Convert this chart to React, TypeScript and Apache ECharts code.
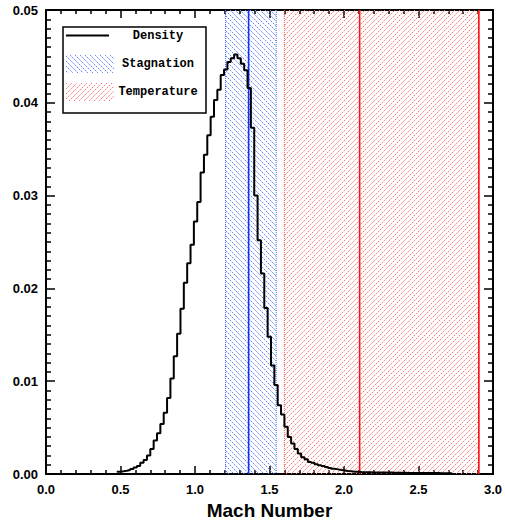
import React, { useEffect, useRef } from "react";
import * as echarts from "echarts";

// ---- data ----
const X_MIN = 0;
const X_MAX = 3;
const Y_MIN = 0;
const Y_MAX = 0.05;
const X_TICKS_INTERVAL = 0.5;
const Y_TICKS_INTERVAL = 0.01;

const BIN_START = 0.475;
const BIN_WIDTH = 0.0225;
const density = [
  0.00025, 0.0003, 0.00036, 0.00043, 0.00054, 0.0007, 0.00086, 0.0012, 0.0015, 0.002,
  0.0027, 0.0036, 0.0044, 0.0054, 0.0066, 0.0082, 0.0103, 0.0127, 0.0151, 0.0178,
  0.0206, 0.0227, 0.0247, 0.0272, 0.0293, 0.0325, 0.0344, 0.0365, 0.0385, 0.0403,
  0.0414, 0.043, 0.0436, 0.0444, 0.0448, 0.0452, 0.0448, 0.0442, 0.0435, 0.0416,
  0.0373, 0.03, 0.0252, 0.0216, 0.0179, 0.0148, 0.0117, 0.0096, 0.0074, 0.0064,
  0.0051, 0.004, 0.0033, 0.0027, 0.0022, 0.0018, 0.0016, 0.0013, 0.0012, 0.00105,
  0.00095, 0.00085, 0.00075, 0.00065, 0.00057, 0.0005, 0.00043, 0.00038, 0.00033, 0.00029,
  0.00025, 0.00023, 0.00021, 0.0002, 0.00019, 0.00018, 0.00017, 0.00017, 0.00016, 0.00016,
  0.00015, 0.00015, 0.00014, 0.00014, 0.00013, 0.00013, 0.00012, 0.00012, 0.00012, 0.00011,
  0.00011, 0.00011, 0.0001, 0.0001, 0.0001, 0.0001, 0.00009, 0.00009, 0.00009, 0.00009,
];

// bands
const stagnationBand = [1.205, 1.545];
const temperatureBand = [1.6, 2.905];
// solid markers
const stagnationLines = [1.36];
const temperatureLines = [2.105, 2.905];

const legendLabels = ["Density", "Stagnation", "Temperature"];
const xAxisTitle = "Mach Number";

// ---- styles ----
const BLUE_HATCH = "#6a86ff";
const RED_HATCH = "#ff7a7a";
const BLUE_LINE = "#1030ff";
const RED_LINE = "#ff1010";
const HATCH_STEP = 5;

function hatchSegments(
  x0: number, y0: number, x1: number, y1: number, dir: number, step: number
): number[][] {
  const segs: number[][] = [];
  if (dir === 1) {
    const cStart = Math.ceil((x0 - y1) / step) * step;
    for (let c = cStart; c <= x1 - y0; c += step) {
      const xa = Math.max(x0, y0 + c);
      const xb = Math.min(x1, y1 + c);
      if (xb > xa) segs.push([xa, xa - c, xb, xb - c]);
    }
  } else {
    const cStart = Math.ceil((x0 + y0) / step) * step;
    for (let c = cStart; c <= x1 + y1; c += step) {
      const xa = Math.max(x0, c - y1);
      const xb = Math.min(x1, c - y0);
      if (xb > xa) segs.push([xa, c - xa, xb, c - xb]);
    }
  }
  return segs;
}

function hatchElements(x0: number, y0: number, x1: number, y1: number, kind: number, z?: number) {
  const dir = kind === 0 ? 1 : -1;
  const color = kind === 0 ? BLUE_HATCH : RED_HATCH;
  return hatchSegments(x0, y0, x1, y1, dir, HATCH_STEP).map((s) => {
    const el: any = {
      type: "line",
      shape: { x1: s[0], y1: s[1], x2: s[2], y2: s[3] },
      style: { stroke: color, lineWidth: 1, lineDash: [2, 1] },
      silent: true,
    };
    if (z !== undefined) el.z = z;
    return el;
  });
}

const AXIS_COLOR = "#000";
const labelFont = {
  fontFamily: "Liberation Sans",
  fontWeight: "bold" as const,
  fontSize: 13,
  color: "#000",
};

export default function App() {
  const ref = useRef<HTMLDivElement>(null);

  useEffect(() => {
    document.body.style.margin = "0";
    if (!ref.current) return;
    const chart = echarts.init(ref.current, undefined, { renderer: "svg" });

    const histPoints: number[][] = density.map((v, i) => [BIN_START + i * BIN_WIDTH, v]);
    histPoints.push([BIN_START + density.length * BIN_WIDTH, density[density.length - 1]]);

    const bandData = [
      [stagnationBand[0], stagnationBand[1], 0],
      [temperatureBand[0], temperatureBand[1], 1],
    ];
    const lineData = [
      ...stagnationLines.map((x) => [x, 0]),
      ...temperatureLines.map((x) => [x, 1]),
    ];

    const baseX = {
      type: "value" as const,
      min: X_MIN,
      max: X_MAX,
      interval: X_TICKS_INTERVAL,
      splitLine: { show: false },
      axisLine: { show: true, onZero: false, lineStyle: { color: AXIS_COLOR, width: 2 } },
      axisTick: { show: true, inside: true, length: 8, lineStyle: { color: AXIS_COLOR, width: 1.5 } },
      minorTick: { show: true, splitNumber: 5, length: 4, lineStyle: { color: AXIS_COLOR, width: 1.5 } },
      minorSplitLine: { show: false },
    };
    const baseY = {
      type: "value" as const,
      min: Y_MIN,
      max: Y_MAX,
      interval: Y_TICKS_INTERVAL,
      splitLine: { show: false },
      axisLine: { show: true, onZero: false, lineStyle: { color: AXIS_COLOR, width: 2 } },
      axisTick: { show: true, inside: true, length: 9, lineStyle: { color: AXIS_COLOR, width: 1.5 } },
      minorTick: { show: true, splitNumber: 10, length: 5, lineStyle: { color: AXIS_COLOR, width: 1.5 } },
      minorSplitLine: { show: false },
    };

    const LX = 63, LY = 27, LW = 143, LH = 86;
    const legendFont = 'bold 12px "Liberation Mono", "DejaVu Sans Mono", monospace';
    const legendGraphics: any[] = [
      {
        type: "rect",
        shape: { x: LX, y: LY, width: LW, height: LH },
        style: { fill: "#fff", stroke: "#000", lineWidth: 1.5 },
        z: 100,
      },
      {
        type: "line",
        shape: { x1: 66, y1: 35.5, x2: 109, y2: 35.5 },
        style: { stroke: "#000", lineWidth: 2 },
        z: 101,
      },
      ...hatchElements(66, 55, 114, 73, 0, 101),
      ...hatchElements(66, 83, 114, 101, 1, 101),
      ...legendLabels.map((t, i) => ({
        type: "text",
        x: 158,
        y: [35.5, 63.5, 92][i],
        z: 102,
        style: {
          text: t,
          font: legendFont,
          fill: "#000",
          align: "center",
          verticalAlign: "middle",
          textAlign: "center",
          textVerticalAlign: "middle",
        },
      })),
    ];

    chart.setOption({
      animation: false,
      backgroundColor: "#fff",
      grid: {
        left: 46,
        right: 12,
        top: 10,
        bottom: 48,
        containLabel: false,
        outerBoundsMode: "none",
      },
      xAxis: [
        {
          ...baseX,
          position: "bottom",
          axisLabel: { ...labelFont, margin: 9, formatter: (v: number) => v.toFixed(1) },
          name: xAxisTitle,
          nameLocation: "middle",
          nameGap: 27,
          nameTextStyle: {
            fontFamily: "Liberation Sans",
            fontWeight: "bold",
            fontSize: 19,
            color: "#000",
          },
        },
        { ...baseX, position: "top", axisLabel: { show: false } },
      ],
      yAxis: [
        {
          ...baseY,
          position: "left",
          axisLabel: { ...labelFont, margin: 8, formatter: (v: number) => v.toFixed(2) },
        },
        { ...baseY, position: "right", axisLabel: { show: false } },
      ],
      graphic: legendGraphics,
      series: [
        {
          type: "custom",
          name: "bands",
          xAxisIndex: 0,
          yAxisIndex: 0,
          data: bandData,
          encode: { x: [0, 1] },
          z: 1,
          silent: true,
          renderItem: (params: any, api: any) => {
            const lo = api.value(0);
            const hi = api.value(1);
            const kind = api.value(2);
            const p0 = api.coord([lo, Y_MAX]);
            const p1 = api.coord([hi, Y_MIN]);
            const x0 = p0[0], y0 = p0[1], x1 = p1[0], y1 = p1[1];
            const edgeColor = kind === 0 ? "#4f6fff" : "#ff5a5a";
            const edges = [x0, x1].map((x) => ({
              type: "line",
              shape: { x1: x, y1: y0, x2: x, y2: y1 },
              style: { stroke: edgeColor, lineWidth: 1, lineDash: [1, 1] },
            }));
            return {
              type: "group",
              children: [...hatchElements(x0, y0, x1, y1, kind), ...edges],
            };
          },
        },
        {
          type: "custom",
          name: "markers",
          xAxisIndex: 0,
          yAxisIndex: 0,
          data: lineData,
          encode: { x: 0 },
          z: 2,
          silent: true,
          renderItem: (params: any, api: any) => {
            const x = api.value(0);
            const kind = api.value(1);
            const p0 = api.coord([x, Y_MAX]);
            const p1 = api.coord([x, Y_MIN]);
            return {
              type: "line",
              shape: { x1: p0[0], y1: p0[1], x2: p1[0], y2: p1[1] },
              style: { stroke: kind === 0 ? BLUE_LINE : RED_LINE, lineWidth: 1.6 },
            };
          },
        },
        {
          type: "line",
          name: "Density",
          data: histPoints,
          step: "end",
          showSymbol: false,
          symbol: "none",
          z: 5,
          silent: true,
          lineStyle: { color: "#000", width: 2 },
        },
      ],
    });

    return () => chart.dispose();
  }, []);

  return <div ref={ref} style={{ width: 505, height: 522 }} />;
}
